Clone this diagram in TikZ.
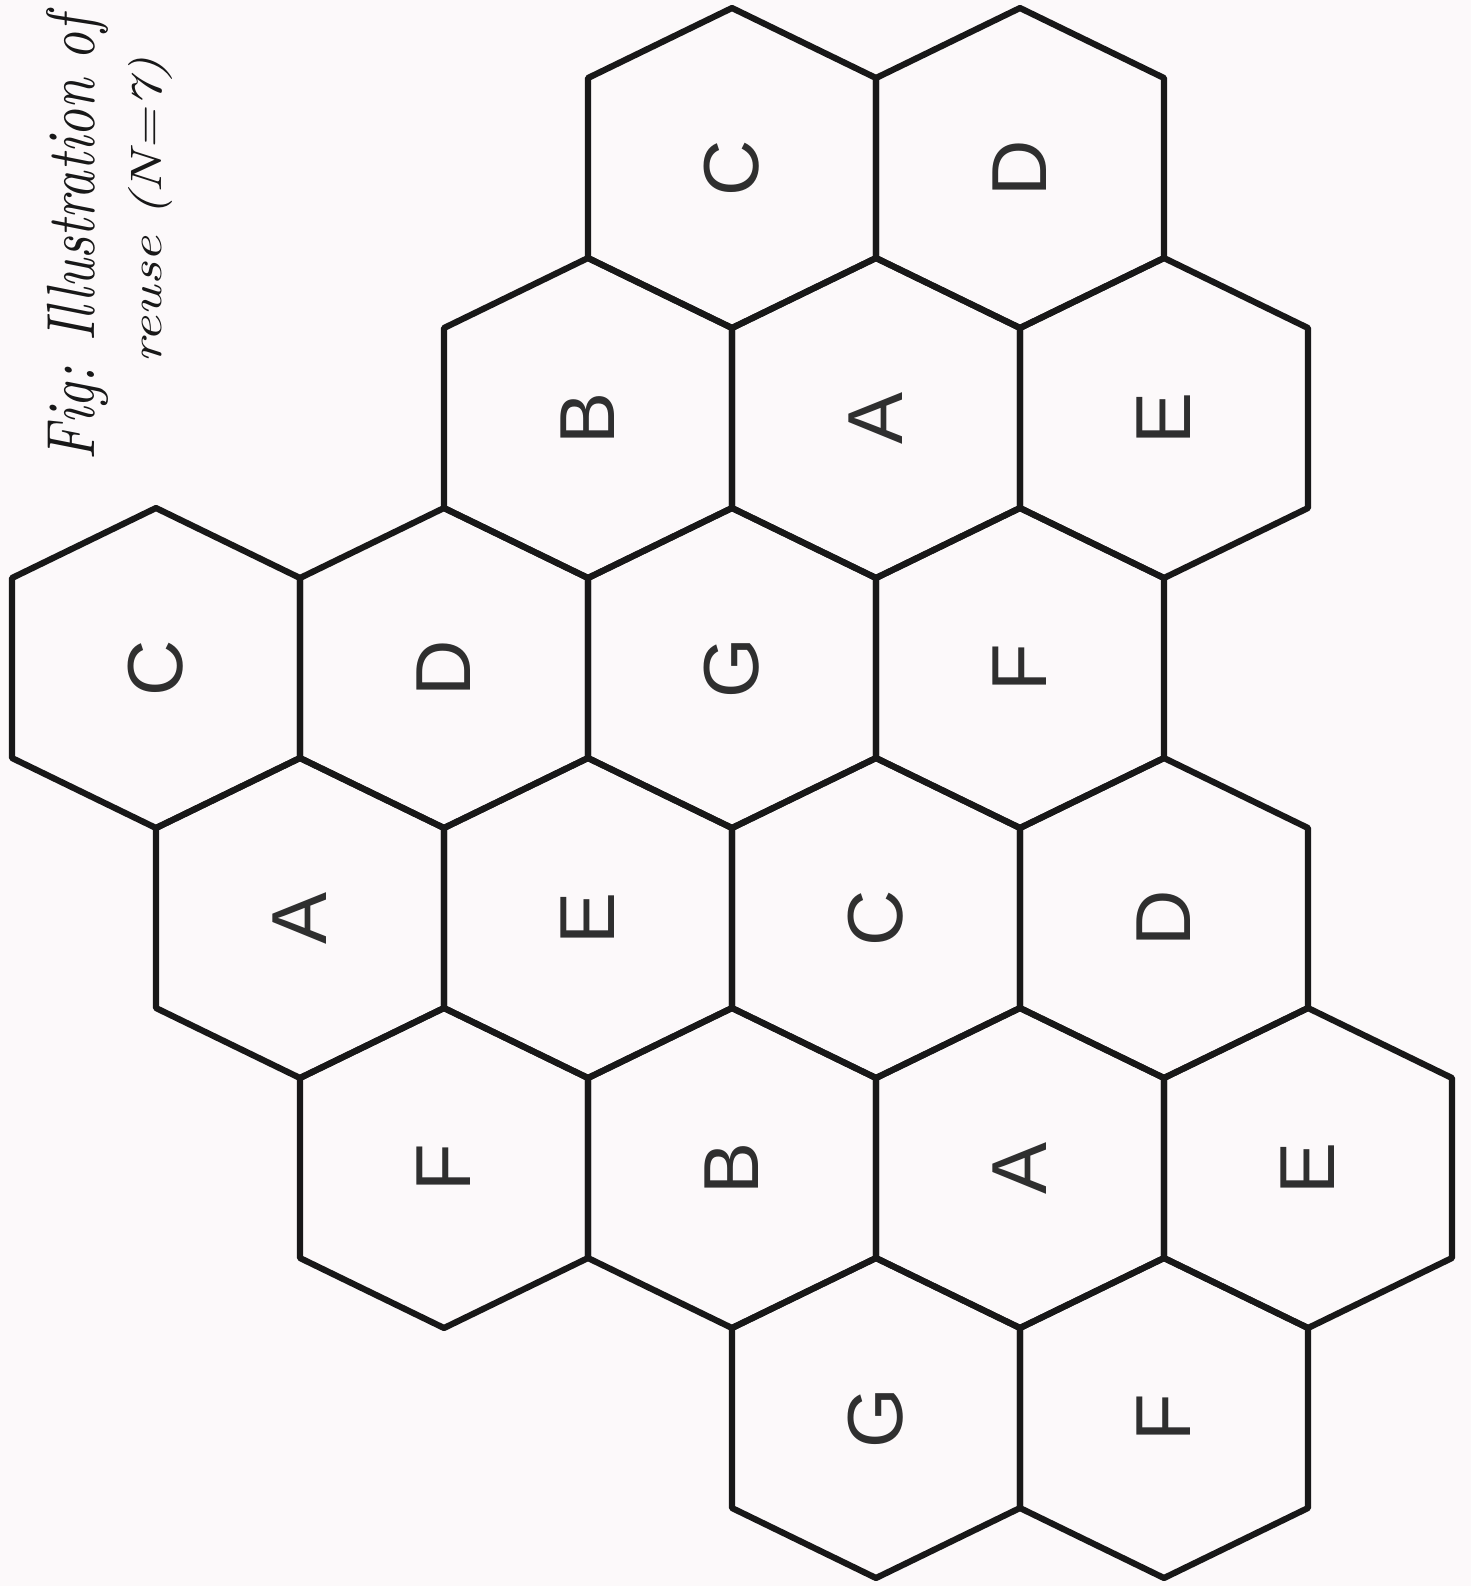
\documentclass[tikz,border=0pt]{standalone}
\usepackage{fontspec}
\usepackage{graphicx}
\setmainfont{Latin Modern Roman}
\newfontfamily\cellfont{Liberation Sans}
\definecolor{paper}{RGB}{252,249,250}
\definecolor{ink}{RGB}{24,24,24}
\tikzset{
  hexline/.style={draw=ink, line width=3.1pt, line join=round},
  cell/.style={rotate=90, inner sep=0pt, text=ink!90, font=\cellfont\fontsize{39}{39}\selectfont},
  caption/.style={rotate=90, inner sep=0pt, text=ink}
}
\newcommand{\hexcell}[4]{%
  \draw[hexline] (#2,#3) ++(0,-160) -- ++(144,70) -- ++(0,180) -- ++(-144,70) -- ++(-144,-70) -- ++(0,-180) -- cycle;
  \node[cell] (#1) at (#2,#3) {#4};
}
\begin{document}
\begin{tikzpicture}[x=0.5pt,y=-0.5pt]
\useasboundingbox (0,0) rectangle (1471,1586);
\fill[paper] (0,0) rectangle (1471,1586);
% row 0
\hexcell{r0c}{732}{168}{C}
\hexcell{r0d}{1020}{168}{D}
% row 1
\hexcell{r1b}{588}{418}{B}
\hexcell{r1a}{876}{418}{A}
\hexcell{r1e}{1164}{418}{E}
% row 2
\hexcell{r2c}{156}{668}{C}
\hexcell{r2d}{444}{668}{D}
\hexcell{r2g}{732}{668}{G}
\hexcell{r2f}{1020}{668}{F}
% row 3
\hexcell{r3a}{300}{918}{A}
\hexcell{r3e}{588}{918}{E}
\hexcell{r3c}{876}{918}{C}
\hexcell{r3d}{1164}{918}{D}
% row 4
\hexcell{r4f}{444}{1168}{F}
\hexcell{r4b}{732}{1168}{B}
\hexcell{r4a}{1020}{1168}{A}
\hexcell{r4e}{1308}{1168}{E}
% row 5
\hexcell{r5g}{876}{1418}{G}
\hexcell{r5f}{1164}{1418}{F}
% caption
\node[caption] (cap1) at (77,238) {\resizebox*{222pt}{31pt}{\itshape Fig: Illustration of}};
\node[caption] (cap2) at (150,210) {\resizebox*{153pt}{22pt}{\itshape reuse (N=7)}};
\end{tikzpicture}
\end{document}
